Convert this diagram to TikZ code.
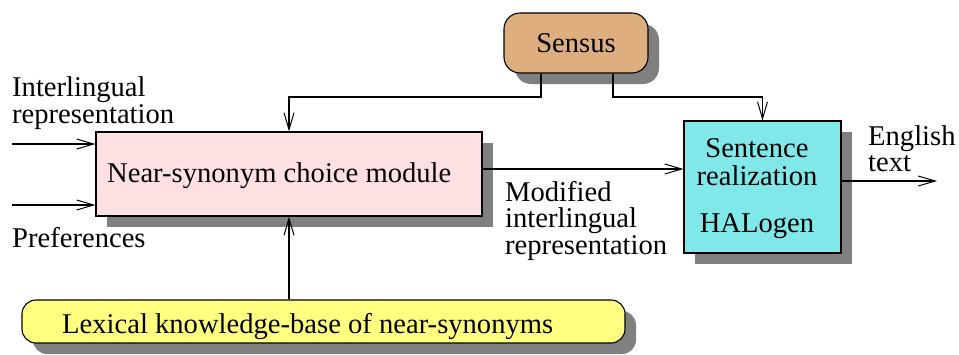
\documentclass[tikz,border=0pt]{standalone}
\usepackage{fontspec}
\setmainfont{Liberation Serif}
\usetikzlibrary{arrows.meta,shadows}
\definecolor{pinkfill}{RGB}{255,224,226}
\definecolor{tanfill}{RGB}{222,174,127}
\definecolor{cyanfill}{RGB}{128,232,232}
\definecolor{yellowfill}{RGB}{255,255,128}
\definecolor{shadowgray}{RGB}{128,128,128}
\tikzset{
  box/.style={draw=black, line width=1.1pt, inner sep=0pt,
    drop shadow={shadow xshift=11pt, shadow yshift=-11pt, fill=shadowgray, opacity=1}},
  arr/.style={-{Straight Barb[length=17pt,width=10pt,line width=1pt]}, line width=1.1pt},
  lbl/.style={inner sep=0pt, align=left, font=\fontsize{28.6}{27}\selectfont},
}
\begin{document}
\begin{tikzpicture}[x=1pt,y=-1pt]
\useasboundingbox (0,0) rectangle (959,354);
% boxes
\node[box, fill=tanfill, rounded corners=16pt, minimum width=144pt, minimum height=60pt] (sensus) at (576,43) {};
\node[box, fill=pinkfill, minimum width=386pt, minimum height=84pt] (pink) at (289,174) {};
\node[box, fill=cyanfill, minimum width=157pt, minimum height=132pt] (cyan) at (762.5,187) {};
\node[box, fill=yellowfill, rounded corners=14pt, minimum width=603pt, minimum height=43pt] (yellow) at (323.5,321.5) {};
% box texts
\node[lbl, anchor=base] (sensustxt) at (sensus.center |- 0,52) {Sensus};
\node[lbl, anchor=base west] (pinktxt) at (107,182) {Near-synonym choice module};
\node[lbl, anchor=base] (cyan1) at (757,157) {Sentence};
\node[lbl, anchor=base] (cyan2) at (757,185) {realization};
\node[lbl, anchor=base] (cyan3) at (757,232) {HALogen};
\node[lbl, anchor=base west] (yellowtxt) at (62,333) {Lexical knowledge-base of near-synonyms};
% labels
\node[lbl, anchor=base west] (il1) at (12,96) {Interlingual};
\node[lbl, anchor=base west] (il2) at (12,123) {representation};
\node[lbl, anchor=base west] (pref) at (12,247) {Preferences};
\node[lbl, anchor=base west] (mod1) at (505,201) {Modified};
\node[lbl, anchor=base west] (mod2) at (505,227) {interlingual};
\node[lbl, anchor=base west] (mod3) at (505,254) {representation};
\node[lbl, anchor=base west] (eng1) at (868,145) {English};
\node[lbl, anchor=base west] (eng2) at (868,171) {text};
% coordinates
\coordinate (j1) at (541,97);
\coordinate (j2) at (613,97);
\coordinate (in1) at (12,144);
\coordinate (in2) at (12,205);
\coordinate (modrow) at (0,169);
\coordinate (out) at (937,181);
% connectors
\draw[arr] (j1 |- sensus.south) -- (j1) -- (j1 -| pink.north) -- (pink.north);
\draw[arr] (j2 |- sensus.south) -- (j2) -- (j2 -| cyan.north) -- (cyan.north);
\draw[arr] (in1) -- (in1 -| pink.west);
\draw[arr] (in2) -- (in2 -| pink.west);
\draw[arr] (pink.east |- modrow) -- (cyan.west |- modrow);
\draw[arr] (cyan.east |- out) -- (out);
\draw[arr] (yellow.north -| pink.south) -- (pink.south);
\end{tikzpicture}
\end{document}
